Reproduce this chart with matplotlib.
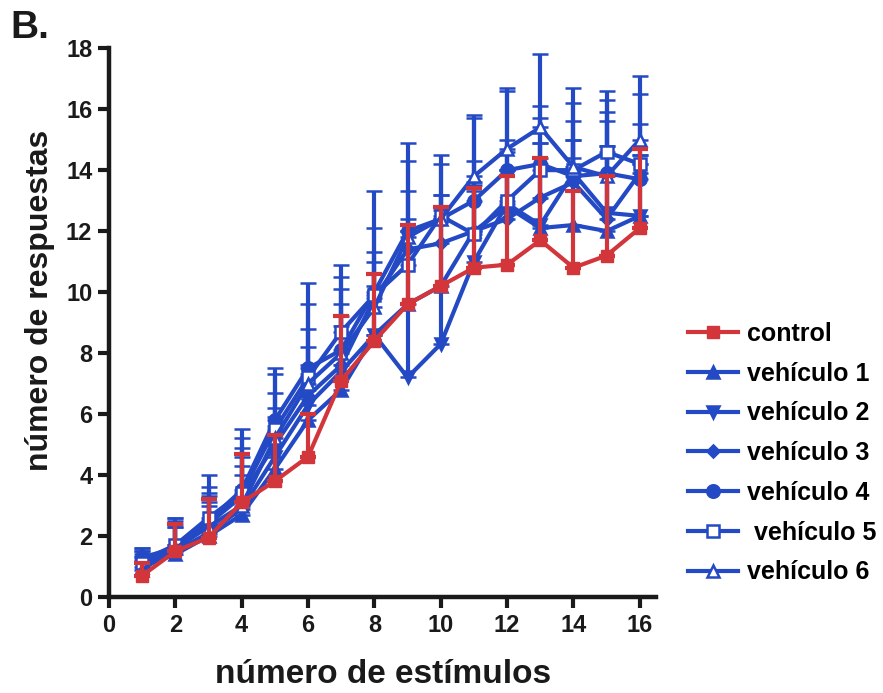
import numpy as np
import matplotlib
matplotlib.use('Agg')
import matplotlib.pyplot as plt

plt.rcParams['font.family'] = ['Liberation Sans', 'DejaVu Sans']
plt.rcParams['font.weight'] = 'bold'

estimulos = np.arange(1, 17)

control = [0.7, 1.5, 1.95, 3.1, 3.8, 4.6, 7.1, 8.4, 9.6, 10.2, 10.8, 10.9, 11.7, 10.8, 11.2, 12.1]
control_err = [0.4, 0.9, 1.25, 1.6, 1.5, 1.4, 2.1, 2.2, 2.6, 2.6, 2.6, 2.9, 2.7, 2.5, 2.6, 2.6]

veh1 = [1.0, 1.4, 2.0, 2.7, 4.2, 5.8, 6.8, 8.6, 9.6, 10.2, 12.0, 12.8, 12.1, 12.2, 12.0, 12.5]
veh1_err = [0.3, 0.9, 1.1, 1.3, 1.4, 1.5, 2.1, 1.6, 2.4, 2.2, 1.3, 1.2, 2.3, 2.2, 2.8, 1.7]

veh2 = [1.1, 1.5, 2.1, 2.9, 4.6, 6.3, 7.4, 8.6, 7.2, 8.3, 11.0, 12.9, 12.2, 13.9, 12.6, 12.5]
veh2_err = [0.3, 0.9, 1.2, 1.4, 1.3, 1.3, 1.8, 2.0, 5.2, 4.4, 2.6, 1.7, 2.7, 1.1, 3.0, 2.0]

veh3 = [1.2, 1.7, 2.4, 3.3, 5.0, 6.6, 7.6, 9.8, 11.4, 11.6, 12.0, 12.4, 13.1, 13.6, 12.4, 13.9]
veh3_err = [0.3, 0.8, 1.0, 1.3, 1.2, 1.6, 2.0, 1.2, 1.9, 1.6, 2.3, 2.6, 2.6, 2.0, 3.5, 1.6]

veh4 = [1.3, 1.6, 2.5, 3.5, 5.8, 7.5, 8.1, 10.0, 12.0, 12.4, 13.0, 14.0, 14.2, 13.8, 13.9, 13.7]
veh4_err = [0.3, 1.0, 1.1, 1.4, 0.9, 1.3, 2.0, 1.3, 2.3, 1.8, 2.7, 2.6, 1.9, 2.4, 2.4, 2.8]

veh5 = [1.1, 1.7, 2.6, 3.4, 5.5, 7.2, 8.7, 9.9, 10.9, 12.5, 11.9, 13.0, 14.0, 14.0, 14.6, 14.2]
veh5_err = [0.4, 0.9, 1.4, 1.8, 1.8, 2.4, 1.8, 2.2, 1.1, 0.7, 1.6, 1.0, 0.9, 1.0, 0.2, 0.3]

veh6 = [0.9, 1.6, 2.3, 3.0, 5.2, 7.0, 8.0, 9.5, 11.8, 12.4, 13.8, 14.7, 15.4, 14.1, 13.8, 15.0]
veh6_err = [0.7, 0.7, 0.7, 2.5, 2.3, 3.3, 2.9, 3.8, 3.1, 2.1, 2.0, 2.0, 2.4, 2.6, 2.8, 2.1]

RED = '#d2353a'
BLUE = '#2449c4'
INK = '#1a1a1a'

fig = plt.figure(figsize=(8.83, 6.93), dpi=100)
ax = fig.add_axes([0.1234, 0.1385, 0.62, 0.792])

vehiculos = [
    ('vehículo 1', veh1, veh1_err, '^', BLUE),
    ('vehículo 2', veh2, veh2_err, 'v', BLUE),
    ('vehículo 3', veh3, veh3_err, 'D', BLUE),
    ('vehículo 4', veh4, veh4_err, 'o', BLUE),
    (' vehículo 5', veh5, veh5_err, 's', 'white'),
    ('vehículo 6', veh6, veh6_err, '^', 'white'),
]

handles = []
for label, y, err, mk, fc in vehiculos:
    ms = 6 if mk == 'D' else 9
    h = ax.errorbar(estimulos, y, yerr=[np.zeros(len(err)), err], color=BLUE,
                    lw=3, marker=mk, ms=ms, mfc=fc, mec=BLUE, mew=1.8,
                    capsize=6, capthick=3, elinewidth=3, zorder=2)
    handles.append(h[0])

hc = ax.errorbar(estimulos, control, yerr=[np.zeros(len(control_err)), control_err],
                 color=RED, lw=3, marker='s', ms=9, mfc=RED, mec=RED,
                 capsize=6, capthick=3, elinewidth=3, zorder=3)
handles.insert(0, hc[0])

ax.set_xlim(0, 16.5)
ax.set_ylim(0, 18)
ax.set_xticks(range(0, 17, 2))
ax.set_yticks(range(0, 19, 2))
for s in ['top', 'right']:
    ax.spines[s].set_visible(False)
for s in ['left', 'bottom']:
    ax.spines[s].set_linewidth(3.2)
    ax.spines[s].set_color(INK)
ax.tick_params(width=3, length=8, labelsize=17, colors=INK, pad=4)

ax.set_xlabel('número de estímulos', fontsize=24, fontweight='bold', labelpad=16, color=INK)
ax.set_ylabel('número de respuestas', fontsize=23, fontweight='bold', color=INK)
ax.yaxis.set_label_coords(-0.099, 0.54)

fig.text(0.012, 0.945, 'B.', fontsize=28, fontweight='bold', color=INK)

fig.legend(handles=handles,
           labels=['control'] + [v[0] for v in vehiculos],
           loc='upper left', bbox_to_anchor=(0.768, 0.55), frameon=False,
           fontsize=18, handlelength=2.0, handletextpad=0.35, labelspacing=0.63,
           borderaxespad=0)

fig.savefig('out.png', dpi=100)
